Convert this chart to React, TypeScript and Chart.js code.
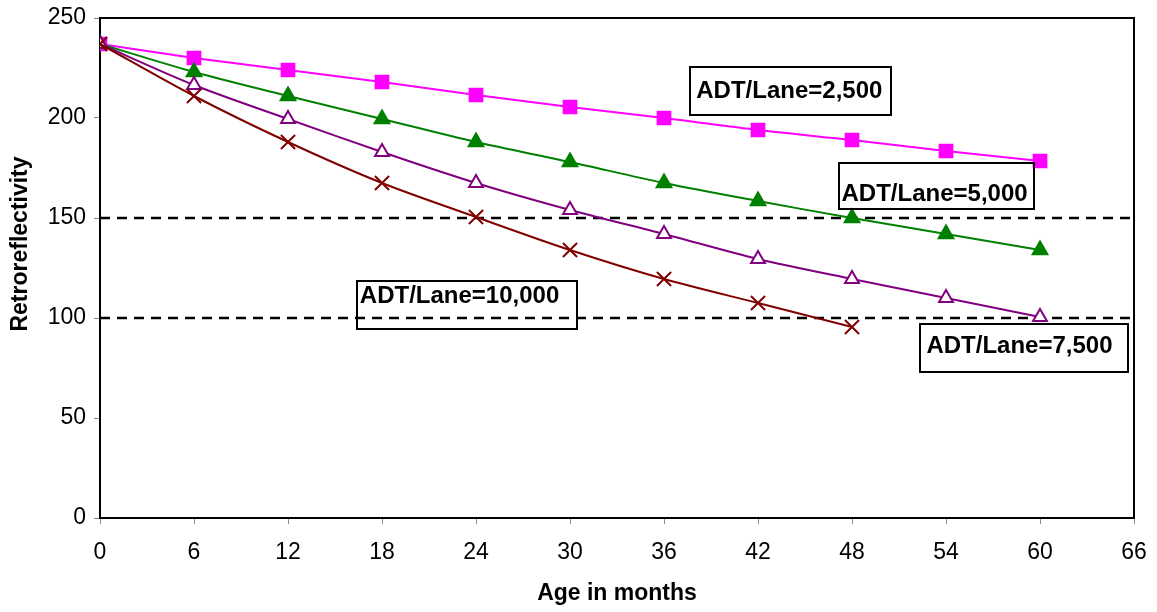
import React, { useEffect, useRef } from "react";
import { Chart, registerables } from "chart.js";

Chart.register(...registerables);

// Age in months at which each reading was taken
const months = [0, 6, 12, 18, 24, 30, 36, 42, 48, 54, 60];

// Retroreflectivity per traffic level
const adt2500 = [237, 230, 224, 218, 211.5, 205.5, 200, 194, 189, 183.5, 178.5];
const adt5000 = [237, 223, 211, 199.5, 188, 178, 167.5, 158.5, 150, 142, 134];
const adt7500 = [237, 216.5, 199.5, 183, 167.5, 154, 142, 129.5, 119.5, 110, 100.5];
const adt10000 = [237, 211, 188, 167.5, 150.5, 134, 119.5, 107.5, 95.5];

// Threshold levels drawn as dashed lines
const thresholds = [150, 100];

// Axis settings
const xMin = 0;
const xMax = 66;
const xStep = 6;
const yMin = 0;
const yMax = 250;
const yStep = 50;

const xTitle = "Age in months";
const yTitle = "Retroreflectivity";

// Series labels (boxed notes on the plot), anchored in data units
const noteTexts = ["ADT/Lane=2,500", "ADT/Lane=5,000", "ADT/Lane=10,000", "ADT/Lane=7,500"];
const noteTextX = [44.0, 53.27, 22.95, 58.69];
const noteTextY = [213.5, 162.0, 111.0, 85.75];
const noteBoxX0 = [37.66, 47.17, 16.4, 52.34];
const noteBoxX1 = [50.49, 59.6, 30.44, 65.62];
const noteBoxY0 = [225.5, 177.5, 118.5, 97.0];
const noteBoxY1 = [201.5, 154.5, 94.5, 73.0];

const FONT = "'Liberation Sans', Arial, Helvetica, sans-serif";

const toPoints = (ys: number[]) => ys.map((y, i) => ({ x: months[i], y }));

const notesPlugin = {
  id: "boxedNotes",
  afterDatasetsDraw(chart: any) {
    const { ctx, scales } = chart;
    const xs = scales.x;
    const ys = scales.y;
    ctx.save();
    ctx.strokeStyle = "#000";
    ctx.lineWidth = 2;
    noteTexts.forEach((t, i) => {
      const x0 = Math.round(xs.getPixelForValue(noteBoxX0[i]));
      const x1 = Math.round(xs.getPixelForValue(noteBoxX1[i]));
      const y0 = Math.round(ys.getPixelForValue(noteBoxY0[i]));
      const y1 = Math.round(ys.getPixelForValue(noteBoxY1[i]));
      ctx.strokeRect(x0, y0, x1 - x0, y1 - y0);
      ctx.fillStyle = "#000";
      ctx.font = `bold 24px ${FONT}`;
      ctx.textAlign = "center";
      ctx.textBaseline = "middle";
      ctx.fillText(t, xs.getPixelForValue(noteTextX[i]), ys.getPixelForValue(noteTextY[i]));
    });
    ctx.restore();
  },
};

const framePlugin = {
  id: "frameAndTitles",
  afterDraw(chart: any) {
    const { ctx, chartArea } = chart;
    ctx.save();
    ctx.strokeStyle = "#000";
    ctx.lineWidth = 2;
    ctx.beginPath();
    ctx.moveTo(chartArea.left, chartArea.top);
    ctx.lineTo(chartArea.right, chartArea.top);
    ctx.lineTo(chartArea.right, chartArea.bottom);
    ctx.stroke();

    ctx.fillStyle = "#000";
    ctx.font = `bold 23px ${FONT}`;
    ctx.textAlign = "center";
    ctx.textBaseline = "middle";
    ctx.fillText(xTitle, (chartArea.left + chartArea.right) / 2, chartArea.bottom + 76);

    ctx.translate(21, chartArea.top + 226);
    ctx.rotate(-Math.PI / 2);
    ctx.fillText(yTitle, 0, 0);
    ctx.restore();
  },
};

export default function App() {
  const canvasRef = useRef<HTMLCanvasElement | null>(null);

  useEffect(() => {
    if (!canvasRef.current) return;

    const seriesLine = (data: number[], color: string, extra: any, order: number) => ({
      data: toPoints(data),
      borderColor: color,
      borderWidth: 2,
      pointBorderColor: color,
      pointBackgroundColor: color,
      tension: 0.3,
      fill: false,
      order,
      ...extra,
    });

    const dashed = thresholds.map((v) => ({
      data: [
        { x: xMin, y: v },
        { x: xMax, y: v },
      ],
      borderColor: "#000",
      borderWidth: 2.5,
      borderDash: [10, 7],
      pointRadius: 0,
      fill: false,
      order: 10,
    }));

    const chart = new Chart(canvasRef.current, {
      type: "line",
      data: {
        datasets: [
          ...dashed,
          seriesLine(adt2500, "#FF00FF", { pointStyle: "rect", pointRadius: 9 }, 4),
          seriesLine(adt5000, "#008000", { pointStyle: "triangle", pointRadius: 8.5 }, 3),
          seriesLine(
            adt7500,
            "#800080",
            { pointStyle: "triangle", pointRadius: 8, pointBackgroundColor: "#fff", pointBorderWidth: 2 },
            2
          ),
          seriesLine(adt10000, "#800000", { pointStyle: "crossRot", pointRadius: 10, pointBorderWidth: 2 }, 1),
        ],
      },
      options: {
        animation: false,
        responsive: false,
        maintainAspectRatio: false,
        layout: { padding: { top: 18, right: 23, left: 0, bottom: 0 } },
        plugins: {
          legend: { display: false },
          tooltip: { enabled: false },
        },
        scales: {
          x: {
            type: "linear",
            min: xMin,
            max: xMax,
            afterFit: (s: any) => {
              s.height = 94;
              s.paddingLeft = 0;
              s.paddingRight = 0;
            },
            ticks: {
              stepSize: xStep,
              color: "#000",
              font: { family: FONT, size: 23 },
              padding: 15,
            },
            grid: { drawOnChartArea: false, drawTicks: true, tickLength: 6, color: "#888" },
            border: { display: true, color: "#000", width: 2 },
          },
          y: {
            min: yMin,
            max: yMax,
            afterFit: (s: any) => {
              s.width = 100;
              s.paddingTop = 0;
              s.paddingBottom = 0;
            },
            ticks: {
              stepSize: yStep,
              color: "#000",
              font: { family: FONT, size: 23 },
              padding: 8,
            },
            grid: { drawOnChartArea: false, drawTicks: true, tickLength: 6, color: "#888" },
            border: { display: true, color: "#000", width: 2 },
          },
        },
      },
      plugins: [notesPlugin, framePlugin],
    });

    return () => chart.destroy();
  }, []);

  return (
    <div style={{ position: "absolute", left: 0, top: 0, width: 1157, height: 612, background: "#fff" }}>
      <canvas ref={canvasRef} width={1157} height={612} style={{ display: "block" }} />
    </div>
  );
}
